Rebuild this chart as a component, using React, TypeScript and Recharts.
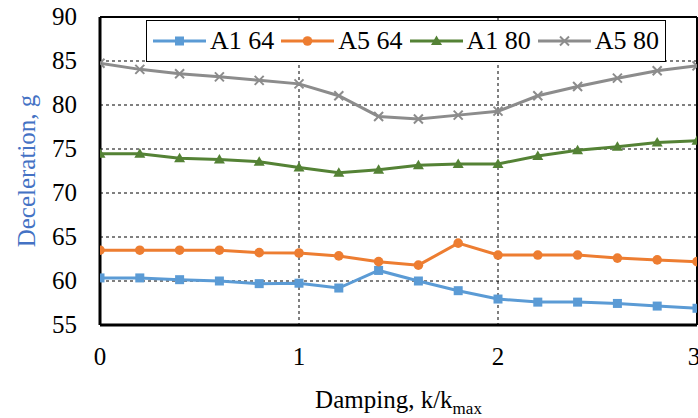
import React from 'react';
import {
    LineChart,
    Line,
    XAxis,
    YAxis,
    CartesianGrid,
    Legend,
    ReferenceLine,
} from 'recharts';

const damping = [0, 0.2, 0.4, 0.6, 0.8, 1.0, 1.2, 1.4, 1.6, 1.8, 2.0, 2.2, 2.4, 2.6, 2.8, 3.0];
const a1_64 = [60.35, 60.35, 60.15, 60.0, 59.7, 59.75, 59.2, 61.2, 60.0, 58.9, 57.95, 57.6, 57.6, 57.45, 57.15, 56.9];
const a5_64 = [63.5, 63.5, 63.5, 63.5, 63.22, 63.18, 62.85, 62.2, 61.8, 64.3, 62.95, 62.95, 62.95, 62.6, 62.4, 62.2];
const a1_80 = [74.45, 74.45, 73.95, 73.8, 73.55, 72.9, 72.3, 72.65, 73.15, 73.3, 73.3, 74.2, 74.85, 75.25, 75.75, 75.95];
const a5_80 = [84.75, 84.05, 83.55, 83.2, 82.8, 82.4, 81.05, 78.7, 78.4, 78.85, 79.3, 81.05, 82.1, 83.05, 83.9, 84.45];
const xTicks = [0, 1, 2, 3];
const yTicks = [55, 60, 65, 70, 75, 80, 85, 90];

const FONT = '"Liberation Serif", "Times New Roman", serif';

const COLORS = {
    a1_64: '#5B9BD5',
    a5_64: '#ED7D31',
    a1_80: '#548235',
    a5_80: '#8C8C8C',
};

const data = damping.map((d, i) => ({
    d,
    a1_64: a1_64[i],
    a5_64: a5_64[i],
    a1_80: a1_80[i],
    a5_80: a5_80[i],
}));

const series = [
    { key: 'a1_64', name: 'A1 64', color: COLORS.a1_64, shape: 'square' },
    { key: 'a5_64', name: 'A5 64', color: COLORS.a5_64, shape: 'circle' },
    { key: 'a1_80', name: 'A1 80', color: COLORS.a1_80, shape: 'triangle' },
    { key: 'a5_80', name: 'A5 80', color: COLORS.a5_80, shape: 'cross' },
];

// marker drawn at (cx, cy)
const Marker = ({ cx, cy, shape, color }: any) => {
    if (cx == null || cy == null) return null;
    if (shape === 'square') {
        return <rect x={cx - 4.5} y={cy - 4.5} width={9} height={9} fill={color} />;
    }
    if (shape === 'circle') {
        return <circle cx={cx} cy={cy} r={4.8} fill={color} />;
    }
    if (shape === 'triangle') {
        return <path d={`M${cx},${cy - 5.5} L${cx + 5.5},${cy + 4} L${cx - 5.5},${cy + 4} Z`} fill={color} />;
    }
    return (
        <path
            d={`M${cx - 4.5},${cy - 4.5} L${cx + 4.5},${cy + 4.5} M${cx + 4.5},${cy - 4.5} L${cx - 4.5},${cy + 4.5}`}
            stroke={color}
            strokeWidth={2}
            fill="none"
        />
    );
};

const LegendBox = () => (
    <div
        style={{
            display: 'flex',
            alignItems: 'center',
            background: '#fff',
            border: '1px solid #000',
            height: 42,
            padding: '0 0 0 5px',
            fontFamily: FONT,
            fontSize: 26,
            color: '#000',
            whiteSpace: 'nowrap',
            boxSizing: 'border-box',
        }}
    >
        {series.map(s => (
            <div key={s.key} style={{ display: 'flex', alignItems: 'center', marginRight: 6 }}>
                <svg width={55} height={14} style={{ marginRight: 3 }}>
                    <line x1={1} y1={7} x2={54} y2={7} stroke={s.color} strokeWidth={3} />
                    <Marker cx={27.5} cy={7} shape={s.shape} color={s.color} />
                </svg>
                <span>{s.name}</span>
            </div>
        ))}
    </div>
);

const XTick = ({ x, y, payload }: any) => (
    <text x={x} y={y + 18} textAnchor="middle" fill="#000" fontFamily={FONT} fontSize={25}>
        {payload.value}
    </text>
);

const YTick = ({ x, y, payload }: any) => (
    <text x={x} y={y + 8} textAnchor="end" fill="#000" fontFamily={FONT} fontSize={25}>
        {payload.value}
    </text>
);

const YLabel = ({ viewBox }: any) => (
    <text
        x={viewBox.x + 35}
        y={viewBox.y + viewBox.height / 2}
        transform={`rotate(-90, ${viewBox.x + 35}, ${viewBox.y + viewBox.height / 2})`}
        textAnchor="middle"
        fill="#4472C4"
        fontFamily={FONT}
        fontSize={25}
    >
        Deceleration, g
    </text>
);

const XLabel = ({ viewBox }: any) => (
    <text
        x={viewBox.x + viewBox.width / 2}
        y={viewBox.y + 83}
        textAnchor="middle"
        fill="#000"
        fontFamily={FONT}
        fontSize={25}
    >
        Damping, k/k
        <tspan fontSize={17} dy={6}>max</tspan>
    </text>
);

const App = () => {
    return (
        <div style={{ position: 'fixed', left: 0, top: 0, background: '#fff' }}>
            <LineChart width={698} height={418} data={data} margin={{ top: 17, right: 1, bottom: 0, left: 0 }}>
                <CartesianGrid stroke="#000" strokeDasharray="3 3" strokeWidth={1} />
                <XAxis
                    dataKey="d"
                    type="number"
                    domain={[0, 3]}
                    ticks={xTicks}
                    height={93}
                    axisLine={{ stroke: '#000', strokeWidth: 3 }}
                    tickLine={false}
                    tickMargin={16}
                    tick={<XTick />}
                    label={<XLabel />}
                    allowDataOverflow
                />
                <YAxis
                    type="number"
                    domain={[55, 90]}
                    ticks={yTicks}
                    width={100}
                    axisLine={{ stroke: '#000', strokeWidth: 3 }}
                    tickLine={false}
                    tickMargin={17}
                    tick={<YTick />}
                    label={<YLabel />}
                    allowDataOverflow
                />
                <ReferenceLine y={90} stroke="#000" strokeWidth={2} />
                <ReferenceLine x={3} stroke="#000" strokeWidth={2} />
                {series.map(s => (
                    <Line
                        key={s.key}
                        type="linear"
                        dataKey={s.key}
                        name={s.name}
                        stroke={s.color}
                        strokeWidth={3}
                        isAnimationActive={false}
                        dot={(p: any) => <Marker key={`${s.key}-${p.index}`} cx={p.cx} cy={p.cy} shape={s.shape} color={s.color} />}
                        activeDot={false}
                    />
                ))}
                <Legend
                    layout="vertical"
                    align="center"
                    verticalAlign="middle"
                    content={<LegendBox />}
                    wrapperStyle={{ top: 20, left: 146, width: 'auto' }}
                />
            </LineChart>
        </div>
    );
};

export default App;
